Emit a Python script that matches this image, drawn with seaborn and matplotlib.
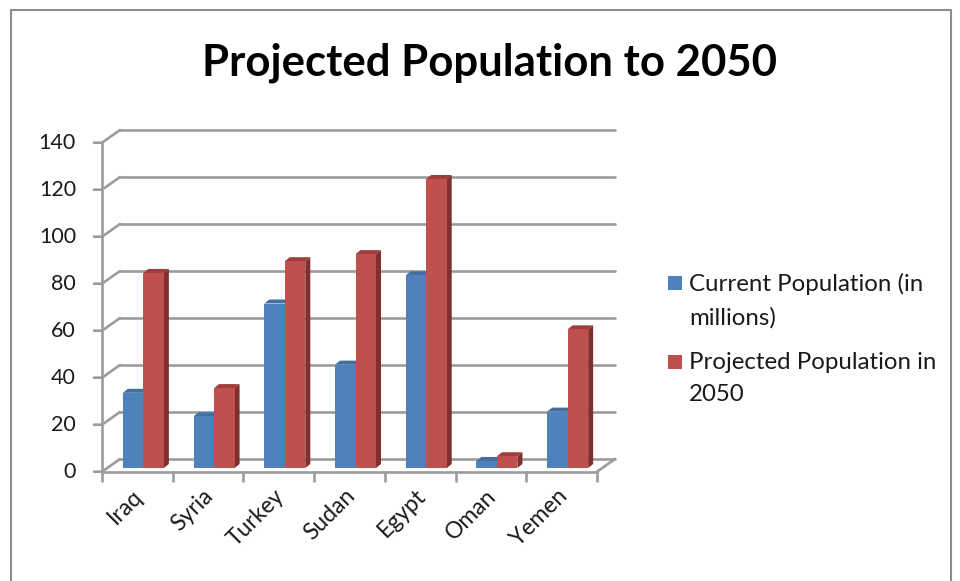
import numpy as np
import pandas as pd
import matplotlib
matplotlib.use("Agg")
import matplotlib.pyplot as plt
import matplotlib.transforms as mtransforms
from matplotlib.patches import Polygon, Rectangle
from matplotlib.lines import Line2D
import seaborn as sns

countries = ["Iraq", "Syria", "Turkey", "Sudan", "Egypt", "Oman", "Yemen"]
current_pop = [32, 22, 70, 44, 82, 3, 24]
projected_2050 = [83, 34, 88, 91, 123, 5, 59]
series_names = ["Current Population (in millions)", "Projected Population in 2050"]
legend_labels = ["Current Population (in\nmillions)", "Projected Population in\n2050"]
y_ticks = [0, 20, 40, 60, 80, 100, 120, 140]
title = "Projected Population to 2050"

front_colors = ["#4F81BD", "#C0504D"]
side_colors = ["#385D8A", "#7F302E"]
cap_colors = ["#43709F", "#9E3D3B"]
grid_color = "#9C9C9C"
text_color = "#1a1a1a"

df = pd.DataFrame({
    "country": countries * 2,
    "value": current_pop + projected_2050,
    "series": [series_names[0]] * len(countries) + [series_names[1]] * len(countries),
})

sns.set_theme(style="white")
plt.rcParams["font.family"] = ["Lato", "DejaVu Sans"]

W, H = 960, 581
fig = plt.figure(figsize=(W / 100, H / 100), dpi=100)
fig.patch.set_facecolor("white")

# axes = plane through the front faces of the columns (pixel layout)
ax_left, ax_right, ax_bottom, ax_top = 108, 603, 468, 139
ax = fig.add_axes([ax_left / W, 1 - ax_bottom / H,
                   (ax_right - ax_left) / W, (ax_bottom - ax_top) / H])
ax.set_facecolor("none")

sns.barplot(data=df, x="country", y="value", hue="series", order=countries,
            hue_order=series_names, palette=front_colors, width=0.58,
            saturation=1, ax=ax, legend=False, zorder=3, linewidth=0)

ax.set_xlim(-0.5, len(countries) - 0.5)
ax.set_ylim(0, 140)
for s in ax.spines.values():
    s.set_visible(False)
ax.set_xticks([])
ax.set_yticks([])
ax.set_xlabel("")
ax.set_ylabel("")


def shifted(dx, dy):
    # dx, dy in pixels (y up)
    return mtransforms.offset_copy(ax.transData, fig=fig, x=dx, y=dy, units="dots")


front = shifted(-6, -3.7)
back = shifted(12, 9)
n = len(countries)
x0, x1 = -0.5, n - 0.5
glw = 1.9

# back wall gridlines and left wall diagonals
for v in y_ticks:
    ax.add_line(Line2D([x0, x1], [v, v], transform=back, color=grid_color,
                       lw=glw, zorder=0, clip_on=False))
    # diagonal across the left wall, starting at the tick mark
    p_front = front.transform((x0, v))
    p_back = back.transform((x0, v))
    ax.add_line(Line2D([p_front[0] - 8, p_front[0], p_back[0]],
                       [p_front[1], p_front[1], p_back[1]],
                       transform=None, color=grid_color, lw=glw, zorder=0,
                       clip_on=False))
    ax.text(p_front[0] - 26, p_front[1], str(v), transform=None,
            ha="right", va="center", fontsize=15.5, color=text_color)

# vertical axis line at the front
ax.add_line(Line2D([x0, x0], [0, 140], transform=front, color=grid_color,
                   lw=glw, zorder=0, clip_on=False))

# floor: front edge and right edge
pf_r = front.transform((x1, 0))
pb_r = back.transform((x1, 0))
ax.add_line(Line2D([x0, x1], [0, 0], transform=front, color=grid_color,
                   lw=glw, zorder=0, clip_on=False))
ax.add_line(Line2D([pf_r[0], pb_r[0]], [pf_r[1], pb_r[1]], transform=None,
                   color=grid_color, lw=glw, zorder=0, clip_on=False))

# category tick marks and labels
for i in range(n + 1):
    p = front.transform((x0 + i, 0))
    ax.add_line(Line2D([p[0], p[0]], [p[1], p[1] - 9], transform=None,
                       color=grid_color, lw=glw, zorder=0, clip_on=False))
for i, name in enumerate(countries):
    p = front.transform((i, 0))
    ax.text(p[0] + 2, p[1] - 21, name, transform=None, rotation=45,
            rotation_mode="anchor", ha="right", va="center", fontsize=16.5,
            color=text_color)

# depth faces of the columns
depth_dx, depth_dy = 5, 4
bars = ax.patches[: 2 * n]
for k, bar in enumerate(bars):
    s = k // n
    bx0 = bar.get_x()
    bx1 = bx0 + bar.get_width()
    h = bar.get_height()
    (ax0_, ay0_), (ax1_, ay1_) = ax.transData.transform([(bx0, 0), (bx1, h)])
    side = Polygon([(ax1_, ay0_), (ax1_, ay1_), (ax1_ + depth_dx, ay1_ + depth_dy),
                    (ax1_ + depth_dx, ay0_ + depth_dy)], closed=True,
                   transform=None, facecolor=side_colors[s], edgecolor="none",
                   zorder=2)
    cap = Polygon([(ax0_, ay1_), (ax1_, ay1_), (ax1_ + depth_dx, ay1_ + depth_dy),
                   (ax0_ + depth_dx, ay1_ + depth_dy)], closed=True,
                  transform=None, facecolor=cap_colors[s], edgecolor="none",
                  zorder=2)
    ax.add_patch(side)
    ax.add_patch(cap)

# title
fig.text(489 / W, 1 - 63 / H, title, ha="center", va="center",
         fontsize=31.5, fontweight="bold", color="black")

# legend
leg_x, sq = 668, 14
for s, (lab, y_first) in enumerate(zip(legend_labels, [283, 362])):
    fig.patches.append(Rectangle((leg_x / W, 1 - (y_first + sq / 2) / H), sq / W, sq / H,
                                 transform=fig.transFigure, facecolor=front_colors[s],
                                 edgecolor="none"))
    fig.text((leg_x + 21) / W, 1 - (y_first - 10) / H, lab, ha="left", va="top",
             fontsize=17.3, linespacing=1.66, color=text_color)

# chart area border
fig.add_artist(Line2D([10.5 / W, 950.5 / W, 950.5 / W], [1 - 10 / H, 1 - 10 / H, 0],
                      transform=fig.transFigure, color="#8C8C8C", lw=1.5))
fig.add_artist(Line2D([10.5 / W, 10.5 / W], [1 - 10 / H, 0],
                      transform=fig.transFigure, color="#8C8C8C", lw=1.5))

fig.savefig("out.png", dpi=100, facecolor="white")
